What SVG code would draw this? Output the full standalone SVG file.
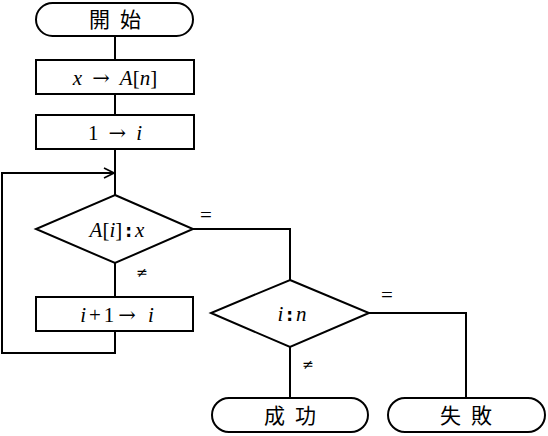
<svg xmlns="http://www.w3.org/2000/svg" width="548" height="436" viewBox="0 0 548 436">
<defs>
<style>
.s{fill:#fff;stroke:#000;stroke-width:2}
.c{fill:none;stroke:#000;stroke-width:2}
.t{font-family:"Liberation Serif","DejaVu Serif",serif;font-size:21px;text-anchor:middle;fill:#000}
.j{font-family:"Noto Sans CJK JP",sans-serif;font-size:21px;text-anchor:middle;fill:#000;letter-spacing:10px}
.i{font-style:italic}
.a{font-family:"DejaVu Serif",serif;font-size:21px}
.k{font-family:"DejaVu Sans",sans-serif;font-weight:bold;font-size:17px}
.l{font-family:"Liberation Serif","DejaVu Serif",serif;font-size:21px;text-anchor:middle;fill:#000}
.n{font-family:"DejaVu Serif",serif;font-size:14px;text-anchor:middle;fill:#000}
</style>
<marker id="ar" viewBox="0 0 12 12" refX="11" refY="6" markerWidth="12" markerHeight="12" markerUnits="userSpaceOnUse" orient="auto">
<path d="M1,1 L11,6 L1,11" fill="none" stroke="#000" stroke-width="1.6"/>
</marker>
</defs>
<rect width="548" height="436" fill="#fff"/>
<g id="connectors">
<line class="c" x1="115" y1="36" x2="115" y2="60"/>
<line class="c" x1="115" y1="94" x2="115" y2="115"/>
<line class="c" x1="115" y1="149" x2="115" y2="195"/>
<line class="c" x1="115" y1="263" x2="115" y2="297"/>
<path class="c" d="M115,331 V353 H2 V173 H114" marker-end="url(#ar)"/>
<path class="c" d="M193,229 H290 V280"/>
<path class="c" d="M369,313 H466 V398"/>
<line class="c" x1="290" y1="347" x2="290" y2="398"/>
<text class="n" x="142" y="277">≠</text>
<text class="l" x="206" y="222">=</text>
<text class="l" x="387" y="302">=</text>
<text class="n" x="308" y="369">≠</text>
</g>
<g id="start">
<rect class="s" x="36" y="3" width="157" height="33" rx="16.5"/>
<text class="j" x="120" y="27">開始</text>
</g>
<g id="assign1">
<rect class="s" x="36" y="60" width="158" height="34"/>
<text class="t" x="115" y="85"><tspan class="i">x</tspan><tspan class="a" dx="10">→</tspan><tspan class="i" dx="10">A</tspan>[<tspan class="i">n</tspan>]</text>
</g>
<g id="assign2">
<rect class="s" x="36" y="115" width="158" height="34"/>
<text class="t" x="115" y="140">1<tspan class="a" dx="10">→</tspan><tspan class="i" dx="10">i</tspan></text>
</g>
<g id="cond1">
<polygon class="s" points="115,195 193,229 115,263 36,229"/>
<text class="t" x="117" y="237"><tspan class="i">A</tspan>[<tspan class="i">i</tspan>]<tspan class="k" dx="3">:</tspan><tspan class="i" dx="3">x</tspan></text>
</g>
<g id="increment">
<rect class="s" x="36" y="297" width="157" height="34"/>
<text class="t" x="117" y="322"><tspan class="i">i</tspan><tspan dx="3">+</tspan><tspan dx="3">1</tspan><tspan class="a" dx="4">→</tspan><tspan class="i" dx="12">i</tspan></text>
</g>
<g id="cond2">
<polygon class="s" points="290,280 369,313 290,347 211,313"/>
<text class="t" x="292" y="321"><tspan class="i">i</tspan><tspan class="k" dx="3">:</tspan><tspan class="i" dx="3">n</tspan></text>
</g>
<g id="success">
<rect class="s" x="212" y="398" width="156" height="34" rx="17"/>
<text class="j" x="295" y="423">成功</text>
</g>
<g id="failure">
<rect class="s" x="388" y="398" width="157" height="34" rx="17"/>
<text class="j" x="471" y="423">失敗</text>
</g>
</svg>
